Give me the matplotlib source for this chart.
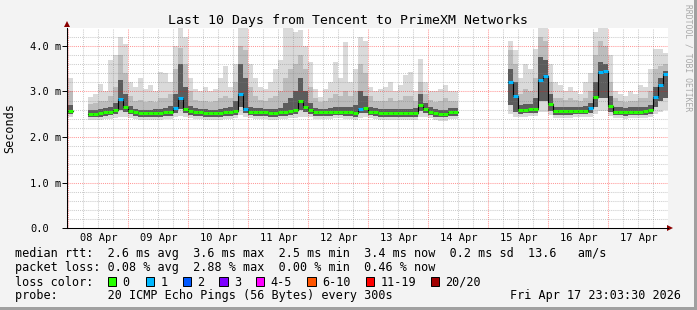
import numpy as np
import matplotlib
matplotlib.use("Agg")
import matplotlib.pyplot as plt
from matplotlib.patches import Rectangle

nan = np.nan

# 10 days, one value per 2 hours (12 per day), times in days from the first day line
day_labels = ["08 Apr", "09 Apr", "10 Apr", "11 Apr", "12 Apr",
              "13 Apr", "14 Apr", "15 Apr", "16 Apr", "17 Apr"]
y_ticks = [0, 1, 2, 3, 4]
y_tick_labels = ["0.0", "1.0 m", "2.0 m", "3.0 m", "4.0 m"]

# median rtt (ms)
rtt_median = [
    2.58, nan, nan, nan, 2.51, 2.51, 2.52, 2.54, 2.56, 2.60, 2.84, 2.66,
    2.58, 2.54, 2.52, 2.52, 2.53, 2.53, 2.53, 2.54, 2.55, 2.64, 2.85, 2.62,
    2.57, 2.55, 2.54, 2.53, 2.52, 2.52, 2.53, 2.54, 2.55, 2.58, 2.95, 2.62,
    2.56, 2.55, 2.54, 2.54, 2.53, 2.53, 2.54, 2.55, 2.57, 2.60, 2.80, 2.66,
    2.60, 2.55, 2.54, 2.54, 2.55, 2.56, 2.56, 2.55, 2.55, 2.53, 2.62, 2.63,
    2.56, 2.54, 2.53, 2.52, 2.52, 2.52, 2.52, 2.52, 2.52, 2.53, 2.70, 2.61,
    2.56, 2.52, 2.51, 2.51, 2.54, 2.55, nan, nan, nan, nan, nan, nan,
    nan, nan, nan, nan, 3.20, 2.90, 2.59, 2.60, 2.61, 2.62, 3.25, 3.35,
    2.72, 2.57, 2.57, 2.57, 2.57, 2.58, 2.58, 2.58, 2.64, 2.88, 3.42, 3.45,
    2.68, 2.56, 2.56, 2.55, 2.56, 2.56, 2.56, 2.57, 2.60, 2.88, 3.15, 3.38,
]

# lost pings out of 20
lost_pings = [
    0, 0, 0, 0, 0, 0, 0, 0, 0, 0, 1, 0,
    0, 0, 0, 0, 0, 0, 0, 0, 0, 1, 1, 0,
    0, 0, 0, 0, 0, 0, 0, 0, 0, 0, 1, 1,
    0, 0, 0, 0, 0, 0, 0, 0, 0, 0, 0, 0,
    0, 0, 0, 0, 0, 0, 0, 0, 0, 0, 1, 0,
    0, 0, 0, 0, 0, 0, 0, 0, 0, 0, 0, 0,
    0, 0, 0, 0, 0, 0, 0, 0, 0, 0, 0, 0,
    0, 0, 0, 0, 1, 1, 0, 0, 0, 0, 1, 1,
    0, 0, 0, 0, 0, 0, 0, 0, 1, 0, 1, 1,
    0, 0, 0, 0, 0, 0, 0, 0, 0, 1, 1, 1,
]

# smoke: spread of the 20 pings
rtt_max = [
    3.30, nan, nan, nan, 2.88, 2.95, 3.17, 3.00, 3.69, 3.80, 4.20, 4.05,
    3.20, 3.10, 3.30, 3.05, 3.15, 3.00, 3.43, 3.40, 3.20, 4.00, 4.39, 4.20,
    3.30, 3.05, 3.00, 3.10, 3.00, 3.05, 3.30, 3.55, 3.10, 3.60, 4.39, 4.39,
    3.60, 3.30, 3.10, 3.05, 3.20, 3.50, 3.70, 4.39, 4.39, 4.30, 4.35, 4.00,
    3.65, 3.05, 2.87, 3.05, 3.20, 3.65, 3.30, 4.09, 3.21, 3.50, 4.20, 4.10,
    3.10, 3.00, 3.05, 3.10, 3.20, 3.00, 3.15, 3.36, 3.43, 3.00, 3.72, 3.20,
    3.00, 3.00, 3.05, 3.15, 3.00, 3.00, nan, nan, nan, nan, nan, nan,
    nan, nan, nan, nan, 4.10, 3.90, 3.30, 3.60, 3.50, 3.93, 4.39, 4.39,
    3.60, 3.20, 3.14, 3.00, 3.10, 3.00, 2.95, 3.20, 3.40, 4.30, 4.39, 4.39,
    3.80, 3.00, 2.95, 2.90, 3.00, 2.95, 3.14, 3.10, 3.50, 3.93, 3.93, 3.85,
]
rtt_p90 = [
    3.00, nan, nan, nan, 2.72, 2.75, 2.80, 2.80, 2.90, 3.10, 3.80, 3.40,
    2.90, 2.80, 2.82, 2.78, 2.80, 2.78, 2.85, 2.85, 2.95, 3.50, 3.95, 3.60,
    3.00, 2.82, 2.80, 2.80, 2.78, 2.80, 2.85, 2.90, 2.85, 3.20, 4.00, 3.90,
    3.10, 2.90, 2.82, 2.80, 2.85, 2.90, 3.00, 3.30, 3.50, 3.60, 3.80, 3.50,
    3.10, 2.85, 2.78, 2.80, 2.85, 2.95, 2.90, 3.00, 2.90, 3.00, 3.60, 3.40,
    2.90, 2.80, 2.80, 2.80, 2.85, 2.80, 2.82, 2.90, 2.90, 2.80, 3.20, 2.95,
    2.82, 2.78, 2.80, 2.85, 2.80, 2.80, nan, nan, nan, nan, nan, nan,
    nan, nan, nan, nan, 3.90, 3.60, 2.95, 3.05, 3.00, 3.30, 4.20, 4.10,
    3.20, 2.85, 2.85, 2.82, 2.85, 2.82, 2.80, 2.85, 3.00, 3.80, 4.10, 4.00,
    3.20, 2.85, 2.80, 2.78, 2.80, 2.80, 2.85, 2.85, 3.00, 3.50, 3.55, 3.60,
]
rtt_p75 = [
    2.70, nan, nan, nan, 2.60, 2.60, 2.62, 2.63, 2.66, 2.75, 3.25, 2.95,
    2.68, 2.62, 2.60, 2.60, 2.60, 2.61, 2.62, 2.63, 2.68, 2.95, 3.60, 3.10,
    2.68, 2.63, 2.62, 2.61, 2.60, 2.60, 2.61, 2.63, 2.65, 2.80, 3.60, 3.30,
    2.66, 2.64, 2.63, 2.62, 2.62, 2.62, 2.64, 2.75, 2.85, 3.00, 3.30, 3.00,
    2.75, 2.64, 2.62, 2.62, 2.63, 2.65, 2.65, 2.66, 2.65, 2.70, 3.00, 2.90,
    2.66, 2.63, 2.62, 2.61, 2.61, 2.61, 2.61, 2.62, 2.62, 2.63, 2.95, 2.75,
    2.65, 2.61, 2.60, 2.60, 2.63, 2.64, nan, nan, nan, nan, nan, nan,
    nan, nan, nan, nan, 3.50, 3.20, 2.70, 2.72, 2.72, 2.85, 3.75, 3.70,
    2.95, 2.66, 2.66, 2.66, 2.66, 2.67, 2.67, 2.68, 2.75, 3.20, 3.65, 3.60,
    2.90, 2.65, 2.65, 2.64, 2.65, 2.65, 2.65, 2.66, 2.70, 3.10, 3.30, 3.45,
]
rtt_p25 = [
    2.50, nan, nan, nan, 2.44, 2.44, 2.45, 2.46, 2.48, 2.51, 2.60, 2.55,
    2.50, 2.46, 2.45, 2.45, 2.45, 2.45, 2.45, 2.46, 2.47, 2.52, 2.62, 2.52,
    2.49, 2.47, 2.46, 2.45, 2.45, 2.45, 2.45, 2.46, 2.47, 2.49, 2.65, 2.52,
    2.48, 2.47, 2.46, 2.46, 2.45, 2.45, 2.46, 2.47, 2.48, 2.50, 2.60, 2.55,
    2.50, 2.47, 2.46, 2.46, 2.47, 2.48, 2.48, 2.47, 2.47, 2.45, 2.52, 2.53,
    2.48, 2.46, 2.45, 2.44, 2.44, 2.44, 2.44, 2.44, 2.44, 2.45, 2.58, 2.52,
    2.48, 2.44, 2.43, 2.43, 2.46, 2.47, nan, nan, nan, nan, nan, nan,
    nan, nan, nan, nan, 2.70, 2.55, 2.51, 2.52, 2.53, 2.53, 2.80, 2.80,
    2.58, 2.49, 2.49, 2.49, 2.49, 2.50, 2.50, 2.50, 2.53, 2.65, 2.85, 2.85,
    2.55, 2.48, 2.48, 2.47, 2.48, 2.48, 2.48, 2.49, 2.51, 2.65, 2.80, 2.85,
]
rtt_min = [
    2.45, nan, nan, nan, 2.37, 2.37, 2.38, 2.39, 2.40, 2.42, 2.45, 2.44,
    2.42, 2.39, 2.38, 2.38, 2.38, 2.38, 2.38, 2.39, 2.40, 2.43, 2.46, 2.43,
    2.41, 2.40, 2.39, 2.38, 2.38, 2.38, 2.38, 2.39, 2.40, 2.41, 2.48, 2.44,
    2.41, 2.40, 2.39, 2.39, 2.38, 2.38, 2.39, 2.40, 2.41, 2.42, 2.45, 2.44,
    2.43, 2.40, 2.39, 2.39, 2.40, 2.41, 2.41, 2.40, 2.40, 2.38, 2.42, 2.44,
    2.41, 2.39, 2.38, 2.37, 2.37, 2.37, 2.37, 2.37, 2.37, 2.38, 2.45, 2.43,
    2.41, 2.37, 2.36, 2.36, 2.39, 2.40, nan, nan, nan, nan, nan, nan,
    nan, nan, nan, nan, 2.50, 2.45, 2.44, 2.45, 2.46, 2.46, 2.55, 2.55,
    2.48, 2.42, 2.42, 2.42, 2.42, 2.43, 2.43, 2.43, 2.45, 2.50, 2.58, 2.58,
    2.46, 2.41, 2.41, 2.40, 2.41, 2.41, 2.41, 2.42, 2.43, 2.50, 2.55, 2.60,
]

loss_labels = ["0", "1", "2", "3", "4-5", "6-10", "11-19", "20/20"]
loss_colors = ["#26ff00", "#00b8ff", "#0059ff", "#7e00ff",
               "#ff00ff", "#ff5500", "#ff0000", "#a10000"]

W, H = 697, 310
MONO = "DejaVu Sans Mono"
plt.rcParams["font.family"] = MONO

fig = plt.figure(figsize=(W / 100, H / 100), dpi=100)
fig.patch.set_facecolor("#f3f3f3")
ax = fig.add_axes([67 / W, 1 - 228.3 / H, (668.3 - 67) / W, (228.3 - 28) / H])
ax.set_facecolor("white")

n = len(rtt_median)
edges = np.arange(n + 1) / 12.0


def stairs(vals):
    v = np.asarray(vals, dtype=float)
    return np.repeat(edges, 2)[1:-1], np.repeat(v, 2)


xs, ymin = stairs(rtt_min)
_, y25 = stairs(rtt_p25)
_, y75 = stairs(rtt_p75)
_, y90 = stairs(rtt_p90)
_, ymax = stairs(rtt_max)
_, ymed = stairs(rtt_median)

ax.fill_between(xs, ymin, ymax, color="#dadada", lw=0, zorder=1)
ax.fill_between(xs, y25, y90, color="#bcbcbc", lw=0, zorder=1.2)
ax.fill_between(xs, y25, y75, color="#5c5c5c", lw=0, zorder=1.4)

# grid on top of the smoke, like rrdtool
for d in np.arange(0, 10, 0.25):
    if d % 1 == 0:
        ax.axvline(d, color="#ff0000", alpha=0.4, lw=0.75, ls=(0, (1, 1)), zorder=3)
    else:
        ax.axvline(d, color="#808080", alpha=0.4, lw=0.75, ls=(0, (1, 1)), zorder=3)
for v in np.arange(0.2, 4.4, 0.2):
    if abs(v - round(v)) < 1e-6:
        ax.axhline(v, color="#ff0000", alpha=0.4, lw=0.75, ls=(0, (1, 1)), zorder=3)
    else:
        ax.axhline(v, color="#808080", alpha=0.4, lw=0.75, ls=(0, (1, 1)), zorder=3)

# median line coloured by loss
ax.plot(xs, ymed, color="black", lw=0.8, zorder=4)
med = np.asarray(rtt_median, dtype=float)
cols = [loss_colors[min(int(l), 4)] for l in lost_pings]
ax.hlines(med, edges[:-1], edges[1:], colors=cols, lw=2.2, zorder=5)

ax.set_xlim(-0.022, 10.0)
ax.set_ylim(0, 4.392)

ax.set_xticks(np.arange(10) + 0.5)
ax.set_xticklabels(day_labels, fontsize=7.5)
ax.tick_params(axis="x", length=0, pad=3.4)
ax.set_yticks(y_ticks)
ax.set_yticklabels(y_tick_labels, fontsize=7.5)
ax.tick_params(axis="y", length=3.6, width=0.7, pad=23)
for lab in ax.get_yticklabels():
    lab.set_ha("left")

for s in ["top", "right"]:
    ax.spines[s].set_visible(False)
for s in ["left", "bottom"]:
    ax.spines[s].set_color("black")
    ax.spines[s].set_linewidth(0.75)
    ax.spines[s].set_zorder(6)

ax.plot([0], [1.018], marker="^", color="#8b0000", ms=5, mew=0,
        transform=ax.transAxes, clip_on=False)
ax.plot([1.003], [0], marker=">", color="#8b0000", ms=5, mew=0,
        transform=ax.transAxes, clip_on=False)


def px(x, y):
    return x / W, 1 - y / H


fig.text(*px(348, 24), "Last 10 Days from Tencent to PrimeXM Networks",
         ha="center", va="baseline", fontsize=9.5)
fig.text(*px(10, 128), "Seconds", rotation=90, ha="center", va="center", fontsize=8.5)
fig.text(*px(688, 4), "RRDTOOL / TOBI OETIKER", rotation=270, ha="center", va="top",
         fontsize=5.8, color="#a8a8a8")

leg = 8.5
fig.text(*px(15, 257.5), "median rtt:  2.6 ms avg  3.6 ms max  2.5 ms min  3.4 ms now  0.2 ms sd  13.6   am/s",
         va="baseline", fontsize=leg)
fig.text(*px(15, 271.5), "packet loss: 0.08 % avg  2.88 % max  0.00 % min  0.46 % now",
         va="baseline", fontsize=leg)
fig.text(*px(15, 285.5), "loss color:", va="baseline", fontsize=leg)
box_x = [108, 145.7, 182.7, 219.3, 256, 307.3, 365.7, 430.7]
for bx, lab, c in zip(box_x, loss_labels, loss_colors):
    fig.patches.append(Rectangle(px(bx, 285.5), 8.3 / W, 8.3 / H, facecolor=c,
                                 edgecolor="black", lw=0.7, transform=fig.transFigure))
    fig.text(*px(bx + 14.5, 285.5), lab, va="baseline", fontsize=leg)
fig.text(*px(15, 299.5), "probe:       20 ICMP Echo Pings (56 Bytes) every 300s",
         va="baseline", fontsize=leg)
fig.text(*px(681, 299.5), "Fri Apr 17 23:03:30 2026", ha="right", va="baseline", fontsize=leg)

# frame
fig.patches.append(Rectangle((1 - 3 / W, 0), 3 / W, 1, facecolor="#a0a0a0",
                             lw=0, transform=fig.transFigure))
fig.patches.append(Rectangle((0, 0), 1, 3 / H, facecolor="#a0a0a0",
                             lw=0, transform=fig.transFigure))

fig.savefig("out.png", dpi=100, facecolor=fig.get_facecolor())
